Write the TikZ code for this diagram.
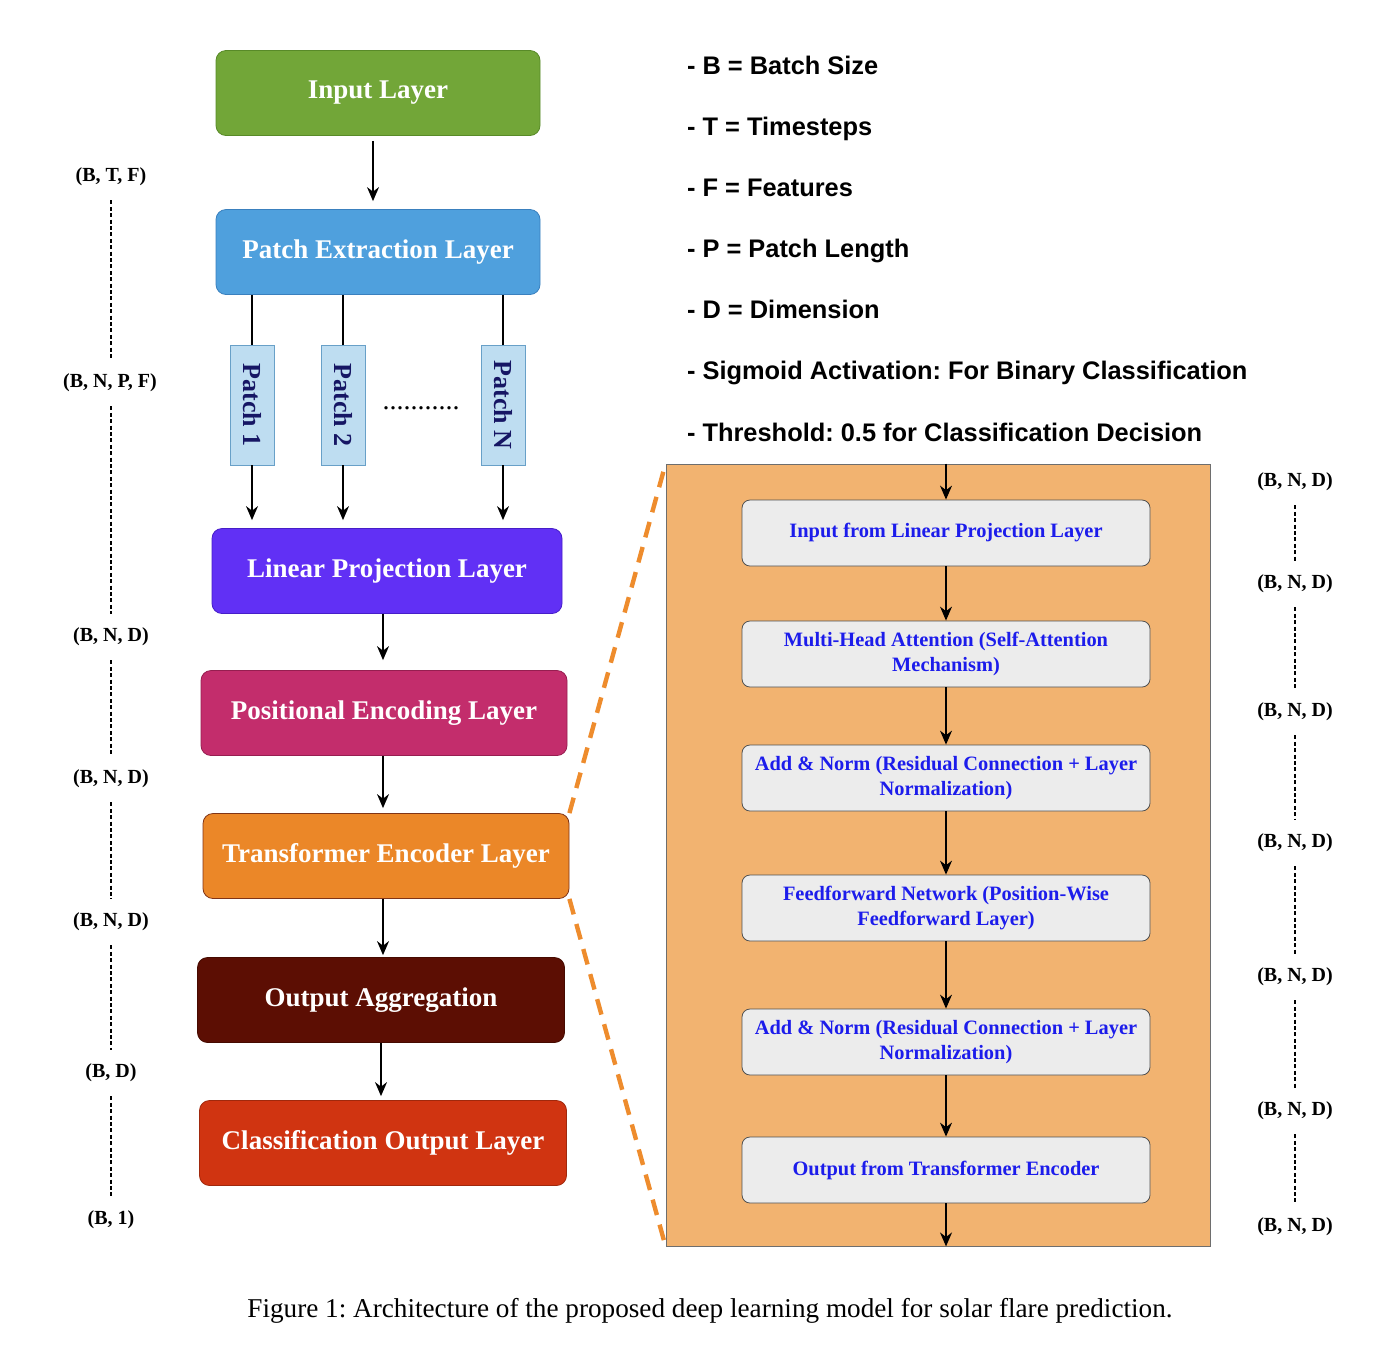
\documentclass[tikz,border=0pt]{standalone}
\usepackage{fontspec}
\usepackage{graphicx}
\setmainfont{Liberation Serif}
\newfontfamily\legendfont{Liberation Sans}
\usetikzlibrary{arrows.meta,positioning}
\frenchspacing
\definecolor{inpgreen}{RGB}{114,166,56}
\definecolor{inpgreenD}{RGB}{88,138,40}
\definecolor{pexblue}{RGB}{79,160,221}
\definecolor{pexblueD}{RGB}{58,128,190}
\definecolor{patchfill}{RGB}{190,221,241}
\definecolor{patchline}{RGB}{104,160,200}
\definecolor{patchtext}{RGB}{22,22,100}
\definecolor{linviolet}{RGB}{97,48,245}
\definecolor{linvioletD}{RGB}{70,30,200}
\definecolor{posmagenta}{RGB}{195,45,108}
\definecolor{posmagentaD}{RGB}{150,30,80}
\definecolor{encorange}{RGB}{235,135,40}
\definecolor{encorangeD}{RGB}{128,52,22}
\definecolor{aggbrown}{RGB}{92,14,3}
\definecolor{aggbrownD}{RGB}{70,10,0}
\definecolor{clsred}{RGB}{208,52,17}
\definecolor{clsredD}{RGB}{160,40,12}
\definecolor{tfmfill}{RGB}{242,179,112}
\definecolor{tfmline}{RGB}{110,110,110}
\definecolor{stepfill}{RGB}{236,236,236}
\definecolor{stepline}{RGB}{80,80,80}
\definecolor{steptext}{RGB}{28,28,235}
\definecolor{zoomorange}{RGB}{238,140,45}

\begin{document}
\begin{tikzpicture}[x=0.5pt,y=-0.5pt,>={Stealth[length=7pt,width=6pt]},
  flow/.style={->,line width=0.7pt},
  layer/.style={draw,rounded corners=5pt,minimum height=42.5pt,text=white,
    font=\fontsize{13.5}{16}\selectfont\bfseries},
  patch/.style={draw=patchline,fill=patchfill,minimum width=22pt,minimum height=60pt,
    inner sep=0pt,text=patchtext,font=\fontsize{13}{16}\selectfont\bfseries},
  stepbox/.style={draw=stepline,fill=stepfill,rounded corners=4pt,minimum width=204pt,
    minimum height=33pt,align=center,text=steptext,
    font=\fontsize{10.2}{12.5}\selectfont\bfseries},
  dimlabel/.style={font=\fontsize{10}{11}\selectfont\bfseries,inner sep=1pt},
  dimline/.style={dash pattern=on 2pt off 1.2pt,line width=0.6pt,shorten <=6pt,shorten >=6pt},
  zoomline/.style={zoomorange,line width=2.2pt,dash pattern=on 8pt off 5pt},
  legend/.style={anchor=base west,font=\legendfont\bfseries\fontsize{12.7}{14}\selectfont}]
\useasboundingbox (0,0) rectangle (1395,1350);

% main pipeline
\node[layer,fill=inpgreen,draw=inpgreenD,minimum width=162pt] (inp) at (378,93) {Input Layer};
\node[layer,fill=pexblue,draw=pexblueD,minimum width=162pt] (pex) at (378,252) {Patch Extraction Layer};
\node[patch] (p1) at (252,405) {\rotatebox{-90}{Patch 1}};
\node[patch] (p2) at (343,405) {\rotatebox{-90}{Patch 2}};
\node[patch] (pN) at (503,405) {\rotatebox{-90}{Patch N}};
\node[font=\fontsize{14}{16}\selectfont] (dots) at (421,408) {...........};
\node[layer,fill=linviolet,draw=linvioletD,minimum width=175pt] (lin) at (387,571) {Linear Projection Layer};
\node[layer,fill=posmagenta,draw=posmagentaD,minimum width=183pt] (pos) at (384,713) {Positional Encoding Layer};
\node[layer,fill=encorange,draw=encorangeD,minimum width=183pt] (enc) at (386,856) {Transformer Encoder Layer};
\node[layer,fill=aggbrown,draw=aggbrownD,minimum width=183.5pt] (agg) at (381,1000) {Output Aggregation};
\node[layer,fill=clsred,draw=clsredD,minimum width=183.5pt] (cls) at (383,1143) {Classification Output Layer};

\draw[flow,shorten <=2.5pt,shorten >=4pt] (inp.south -| 373,0) -- (pex.north -| 373,0);
\foreach \p in {p1,p2,pN}{
  \draw[line width=0.7pt] (pex.south -| \p) -- (\p.north);
  \draw[flow,shorten >=4pt] (\p.south) -- (lin.north -| \p);
}
\draw[flow,shorten >=5pt] (lin.south -| 383,0) -- (pos.north -| 383,0);
\draw[flow,shorten >=2.5pt] (pos.south -| 383,0) -- (enc.north -| 383,0);
\draw[flow,shorten >=1pt] (enc.south -| 383,0) -- (agg.north -| 383,0);
\draw[flow,shorten >=2pt] (agg.south -| 381,0) -- (cls.north -| 381,0);

% tensor shapes, left
\foreach \nm/\xx/\yy/\txt in {s1/111/177/{(B, T, F)}, s2/110/383/{(B, N, P, F)},
    s3/111/637/{(B, N, D)}, s4/111/779/{(B, N, D)}, s5/111/922/{(B, N, D)},
    s6/111/1073/{(B, D)}, s7/111/1220/{(B, 1)}}
  \node[dimlabel] (\nm) at (\xx,\yy) {\txt};
\foreach \a/\b in {s1/s2,s2/s3,s3/s4,s4/s5,s5/s6,s6/s7}
  \draw[dimline] (\a.south -| 111,0) -- (\b.north -| 111,0);

% legend
\foreach \txt [count=\k] in {- B = Batch Size, - T = Timesteps, - F = Features,
    - P = Patch Length, - D = Dimension, - Sigmoid Activation: For Binary Classification,
    - Threshold: 0.5 for Classification Decision}
  \node[legend] (leg\k) at (680,{74+61.17*(\k-1)}) {\txt};

% transformer encoder detail
\node[draw=tfmline,fill=tfmfill,minimum width=272pt,minimum height=391pt,inner sep=0pt] (tfm) at (938,855) {};
\node[stepbox] (t1) at (946,533) {Input from Linear Projection Layer};
\node[stepbox] (t2) at (946,654) {Multi-Head Attention (Self-Attention\\Mechanism)};
\node[stepbox] (t3) at (946,778) {Add \& Norm (Residual Connection + Layer\\Normalization)};
\node[stepbox] (t4) at (946,908) {Feedforward Network (Position-Wise\\Feedforward Layer)};
\node[stepbox] (t5) at (946,1042) {Add \& Norm (Residual Connection + Layer\\Normalization)};
\node[stepbox] (t6) at (946,1170) {Output from Transformer Encoder};
\draw[flow] (tfm.north -| t1) -- (t1.north);
\foreach \a/\b in {t1/t2,t2/t3,t3/t4,t4/t5,t5/t6}
  \draw[flow] (\a) -- (\b);
\draw[flow] (t6.south) -- (tfm.south -| t6);

\draw[zoomline] (enc.north east) -- (tfm.north west);
\draw[zoomline] (enc.south east) -- (tfm.south west);

% tensor shapes, right
\foreach \nm/\yy in {r1/482,r2/584,r3/712,r4/843,r5/977,r6/1111,r7/1227}
  \node[dimlabel] (\nm) at (1295,\yy) {(B, N, D)};
\foreach \a/\b in {r1/r2,r2/r3,r3/r4,r4/r5,r5/r6,r6/r7}
  \draw[dimline] (\a) -- (\b);

\node[font=\fontsize{13.6}{16}\selectfont] (caption) at (710,1311)
  {Figure 1: Architecture of the proposed deep learning model for solar flare prediction.};
\end{tikzpicture}
\end{document}
